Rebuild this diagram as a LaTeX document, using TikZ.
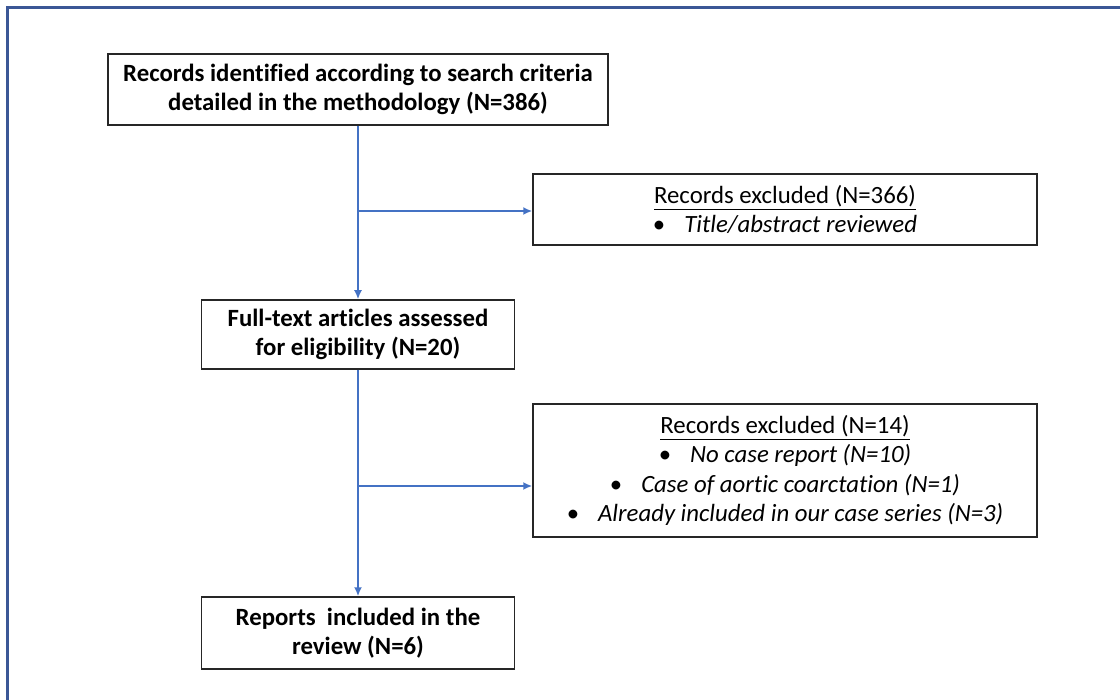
\documentclass[tikz,border=0pt]{standalone}
\usepackage{fontspec}
\setmainfont{Carlito}[Ligatures=NoCommon]
\usetikzlibrary{arrows.meta}
\begin{document}
\begin{tikzpicture}[x=0.5pt,y=-0.5pt,
  box/.style={draw=black!85, line width=0.75pt, align=center, inner sep=0pt,
    font=\fontsize{12.4}{14.8}\selectfont\bfseries},
  exclbox/.style={draw=black!85, line width=0.75pt, align=center, inner sep=0pt,
    minimum width=252pt, font=\fontsize{12.4}{14.8}\selectfont},
  arrow/.style={-{Latex[length=4.5pt,width=4pt]}, draw=colorarrow, line width=1.1pt}]
% Define colors
\definecolor{colorframe}{HTML}{3B5796}
\definecolor{colorarrow}{HTML}{4472C4}
\newcommand{\bul}{\textbullet\hspace{9.5pt}}
  \useasboundingbox (0,0) rectangle (1120,700);
  % Frame
  \draw[colorframe, line width=1.5pt] (1120,8) -- (7,8) -- (7,700);
  % Define nodes
  \node[box, minimum width=250pt, minimum height=35.5pt] (A) at (358,89.5)
    {Records identified according to search criteria\\detailed in the methodology (N=386)};
  \node[exclbox, minimum height=35.5pt] (B) at (785,209.5)
    {\underline{Records excluded (N=366)}\\
     \bul\textit{Title/abstract reviewed}};
  \node[box, minimum width=156.5pt, minimum height=34.5pt] (C) at (358,334.5)
    {Full-text articles assessed\\for eligibility (N=20)};
  \node[exclbox, minimum height=66.5pt] (D) at (785,470.5)
    {\underline{Records excluded (N=14)}\\
     \bul\textit{No case report (N=10)}\\
     \bul\textit{Case of aortic coarctation (N=1)}\\
     \bul\textit{Already included in our case series (N=3)}};
  \node[box, minimum width=156.5pt, minimum height=36pt] (E) at (358,633)
    {Reports\ \ included in the\\review (N=6)};
  \coordinate (P) at (358,211);
  \coordinate (Q) at (358,486);
  % Draw arrows
  \draw[arrow] (A) -- (C);
  \draw[arrow] (C) -- (E);
  \draw[arrow] (P) -- (P -| B.west);
  \draw[arrow] (Q) -- (Q -| D.west);
\end{tikzpicture}
\end{document}
